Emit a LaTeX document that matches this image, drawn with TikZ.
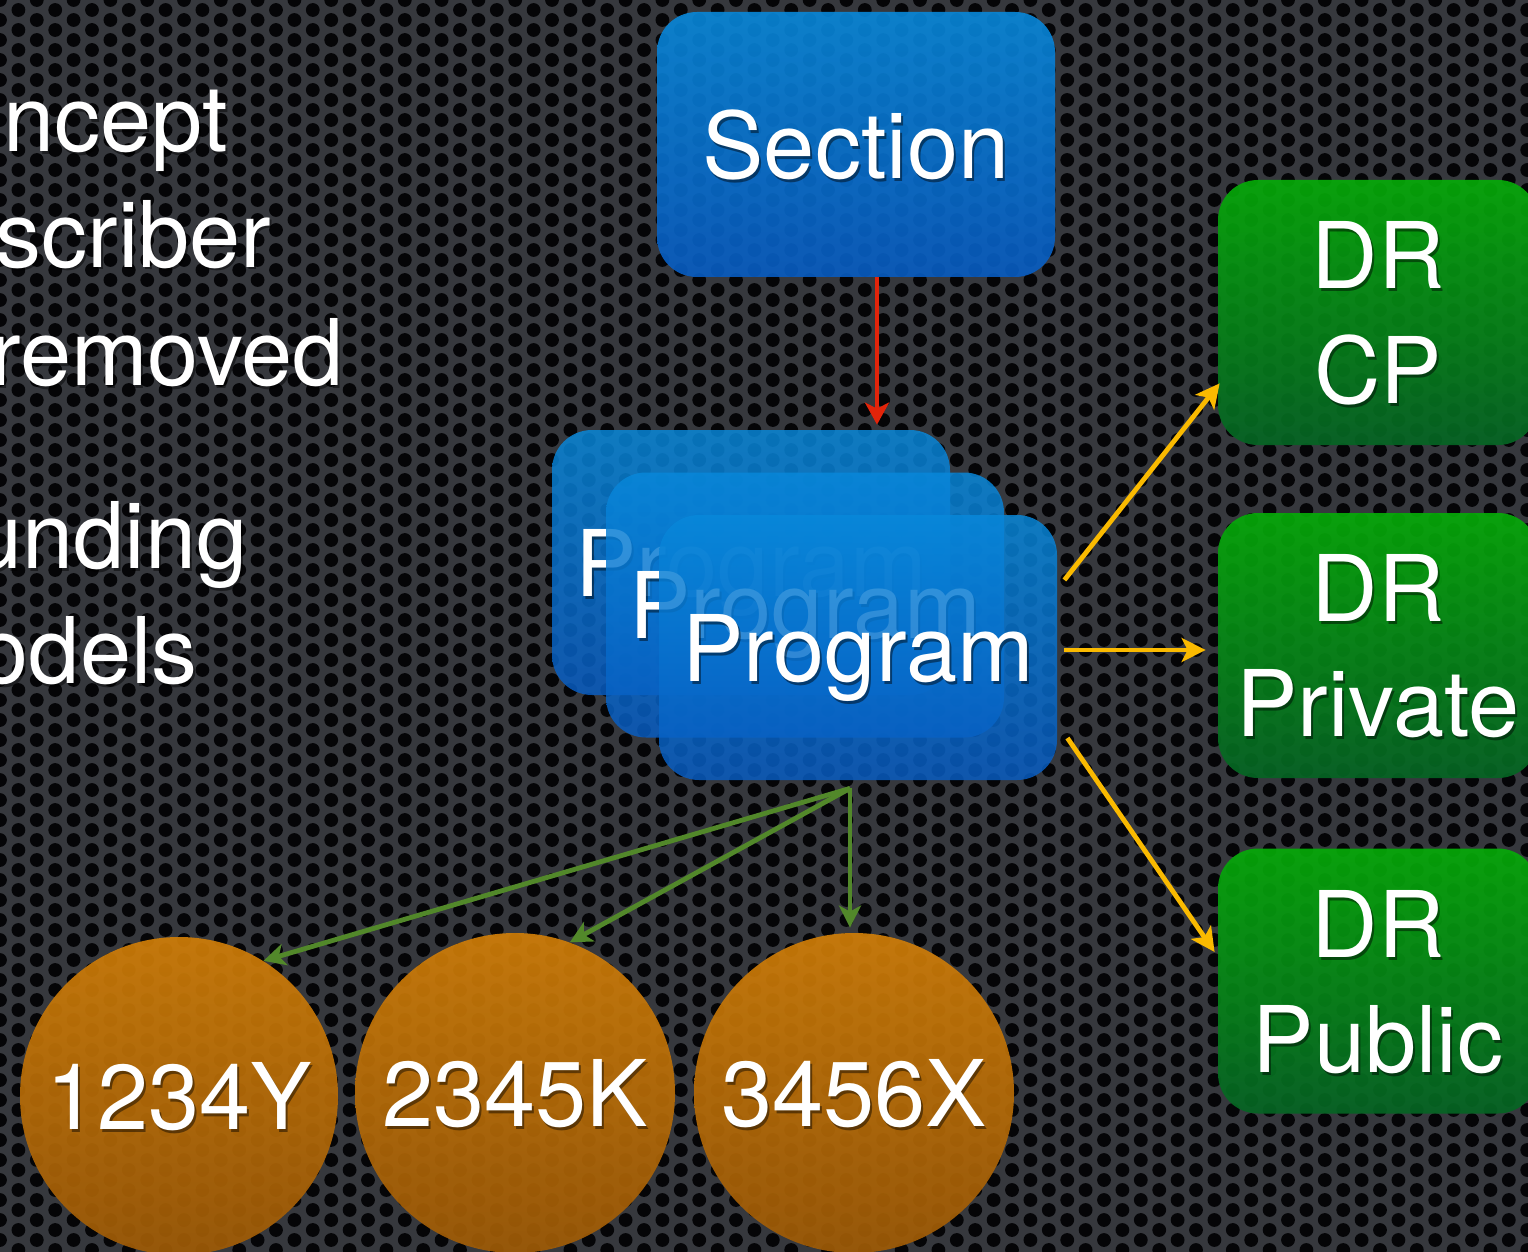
\documentclass[tikz,border=0pt]{standalone}
\usepackage{fontspec}
\setmainfont{TeX Gyre Heros}
\usetikzlibrary{arrows.meta,calc}

\definecolor{bgbase}{RGB}{54,56,61}
\definecolor{holecol}{RGB}{5,5,7}
\definecolor{blueTop}{RGB}{8,136,218}
\definecolor{blueBot}{RGB}{8,92,194}
\definecolor{greenTop}{RGB}{6,170,8}
\definecolor{greenBot}{RGB}{6,100,36}
\definecolor{orangeTop}{RGB}{208,126,8}
\definecolor{orangeBot}{RGB}{158,90,6}
\definecolor{arrowRed}{RGB}{226,36,10}
\definecolor{arrowYellow}{RGB}{250,186,0}
\definecolor{arrowGreen}{RGB}{82,136,42}

% place a white label with a soft drop shadow on top of a shape
\newcommand\shadowlabel[3]{%
  \node[txtshadow] (#1s) at ([shift={(2,3)}]#2.center) {#3};
  \node[txt] (#1) at (#2.center) {#3};}

\tikzset{
  box/.style={rounded corners=20pt, inner sep=0pt, draw=none,
    minimum width=199pt, minimum height=132.5pt},
  bluebox/.style={box, top color=blueTop, bottom color=blueBot, fill opacity=0.9},
  progbox/.style={box, top color=blueTop, bottom color=blueBot, fill opacity=0.84},
  greenbox/.style={box, minimum width=160pt, top color=greenTop, bottom color=greenBot, fill opacity=0.92},
  disc/.style={circle, inner sep=0pt, draw=none, top color=orangeTop, bottom color=orangeBot, fill opacity=0.92},
  txt/.style={text=white, inner sep=0pt, align=center, text depth=0pt,
    font=\fontsize{46}{57.5}\selectfont},
  txtshadow/.style={txt, text=black, text opacity=0.45},
  sidetxt/.style={text=white, inner sep=0pt, anchor=base east,
    font=\fontsize{46}{57.5}\selectfont},
  sideshadow/.style={sidetxt, text=black, text opacity=0.45},
  redarrow/.style={draw=arrowRed, line width=2pt,
    -{Stealth[length=11pt,width=12pt,inset=3pt]}},
  yellowarrow/.style={draw=arrowYellow, line width=2.4pt,
    -{Stealth[length=12pt,width=12pt,inset=3pt]}},
  greenarrow/.style={draw=arrowGreen, line width=2.4pt,
    -{Stealth[length=11pt,width=11pt,inset=3pt]}},
}

\begin{document}
\begin{tikzpicture}[x=0.5pt,y=-0.5pt]
\useasboundingbox (0,0) rectangle (1528,1252);
\clip (0,0) rectangle (1528,1252);

% perforated metal backdrop, one path per column of holes
\fill[bgbase] (0,0) rectangle (1528,1252);
\foreach \c in {0,...,84} {
  \pgfmathsetmacro{\yoff}{mod(\c,2)*10}
  \fill[holecol] \foreach \r in {0,...,63} {
    ({\c*18.4},{\r*20+\yoff}) circle[radius=3.45pt]
  };
}

% bullet text running in from the left
\node[sideshadow] (t1s) at (230,155) {ncept};
\node[sidetxt] (t1) at (228,152) {ncept};
\node[sideshadow] (t2s) at (274,270) {scriber};
\node[sidetxt] (t2) at (272,267) {scriber};
\node[sideshadow] (t3s) at (346,388) {removed};
\node[sidetxt] (t3) at (344,385) {removed};
\node[sideshadow] (t4s) at (250,571) {unding};
\node[sidetxt] (t4) at (248,568) {unding};
\node[sideshadow] (t5s) at (200,686) {odels};
\node[sidetxt] (t5) at (198,683) {odels};

% section
\node[bluebox] (section) at (856,144.5) {};
\shadowlabel{sectionText}{section}{Section}

% stacked programs
\node[progbox] (progBack) at (751,562.5) {};
\shadowlabel{progBackText}{progBack}{Program}
\node[progbox] (progMid) at (805,605) {};
\shadowlabel{progMidText}{progMid}{Program}
\node[progbox] (progFront) at (858,647.5) {};
\shadowlabel{progFrontText}{progFront}{Program}

% data rights
\node[greenbox] (drcp) at (1378,312.5) {};
\shadowlabel{drcpText}{drcp}{DR\\CP}
\node[greenbox] (drpriv) at (1378,645.5) {};
\shadowlabel{drprivText}{drpriv}{DR\\Private}
\node[greenbox] (drpub) at (1378,981) {};
\shadowlabel{drpubText}{drpub}{DR\\Public}

% models
\node[disc, minimum size=159pt] (c1) at (179,1096) {};
\shadowlabel{c1Text}{c1}{1234Y}
\node[disc, minimum size=160pt] (c2) at (515,1093) {};
\shadowlabel{c2Text}{c2}{2345K}
\node[disc, minimum size=160pt] (c3) at (854,1093) {};
\shadowlabel{c3Text}{c3}{3456X}

% section to program
\coordinate (redStart) at ([xshift=10.5pt]section.south);
\draw[redarrow, shorten >=2.5pt] (redStart) -- (redStart |- progBack.north);

% program to data rights
\coordinate (yA) at ([shift={(7,-67.5)}]progFront.east);
\draw[yellowarrow] (yA) -- ($(drcp.south west)+(2,-62)$);
\coordinate (yB) at ([shift={(7,2.5)}]progFront.east);
\draw[yellowarrow, shorten >=6pt] (yB) -- (yB -| drpriv.west);
\coordinate (yC) at ([shift={(10,90.5)}]progFront.east);
\draw[yellowarrow] (yC) -- ($(drpub.west)+(-3,-29)$);

% program to models
\coordinate (fork) at ([shift={(-8,8)}]progFront.south);
\draw[greenarrow] (fork) -- (c1.58);
\draw[greenarrow] (fork) -- (c2.70);
\draw[greenarrow, shorten >=2.5pt] (fork) -- (fork |- c3.north);
\end{tikzpicture}
\end{document}
